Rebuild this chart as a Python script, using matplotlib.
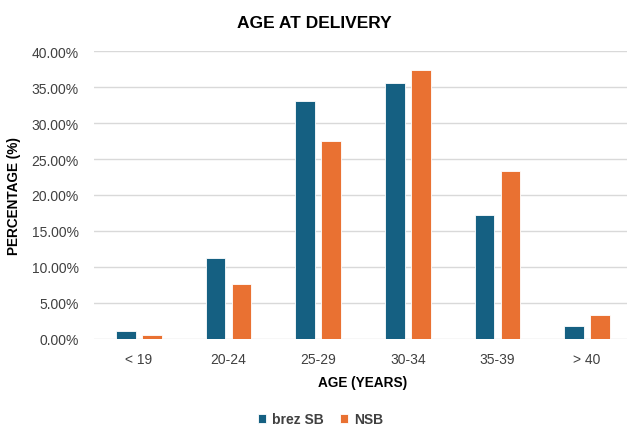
import matplotlib.pyplot as plt
import numpy as np
from matplotlib.ticker import PercentFormatter

#Data
age_groups = ["< 19", "20-24", "25-29", "30-34", "35-39", "> 40"]
brez_sb = [1.07, 11.21, 33.04, 35.59, 17.24, 1.81]
nsb = [0.51, 7.60, 27.57, 37.35, 23.35, 3.34]
series_names = ["brez SB", "NSB"]

#Style
blue = "#156082"
orange = "#E97132"
grid_color = "#D9D9D9"
text_color = "#404040"
bar_width = 0.22
gap = 0.067

plt.rcParams["font.family"] = ["Liberation Sans", "DejaVu Sans"]

fig = plt.figure(figsize=(6.27, 4.27), dpi=100)
W, H = 627, 427
# axes placed in pixel terms: left 94, right 632, top 52.3, bottom 339.5
ax = fig.add_axes([94 / W, (H - 339.5) / H, (632 - 94) / W, (339.5 - 52.3) / H])

x = np.arange(len(age_groups))
offset = (bar_width + gap) / 2
ax.bar(x - offset, np.array(brez_sb) / 100, width=bar_width, color=blue,
       edgecolor="white", linewidth=0.6, label=series_names[0], zorder=3)
ax.bar(x + offset, np.array(nsb) / 100, width=bar_width, color=orange,
       edgecolor="white", linewidth=0.6, label=series_names[1], zorder=3)

ax.set_xlim(-0.5, len(age_groups) - 0.5)
ax.set_ylim(0, 0.40)
ax.set_yticks(np.arange(0, 0.401, 0.05))
ax.yaxis.set_major_formatter(PercentFormatter(1.0, decimals=2))
ax.set_xticks(x)
ax.set_xticklabels(age_groups)

ax.grid(axis="y", color=grid_color, linewidth=1, zorder=0)
for side in ["top", "right", "left", "bottom"]:
    ax.spines[side].set_visible(False)
ax.tick_params(axis="both", length=0, labelsize=10, colors=text_color)
ax.tick_params(axis="y", pad=11)
ax.tick_params(axis="x", pad=10)

fig.text(314.5 / W, 1 - 23 / H, "AGE AT DELIVERY", ha="center", va="center",
         fontsize=12.5, fontweight="bold", color="black")
fig.text(363 / W, 1 - 383 / H, "AGE (YEARS)", ha="center", va="center",
         fontsize=9.8, fontweight="bold", color="black")
fig.text(14 / W, 1 - 196 / H, "PERCENTAGE (%)", ha="center", va="center",
         rotation=90, fontsize=9.8, fontweight="bold", color="black")

leg = fig.legend(loc="center", bbox_to_anchor=(320.5 / W, 1 - 420 / H), ncol=2,
                 frameon=False, handlelength=0.6, handleheight=0.6,
                 handletextpad=0.4, columnspacing=1.2,
                 prop={"weight": "bold", "size": 10})
for t in leg.get_texts():
    t.set_color(text_color)

plt.savefig("out.png", dpi=100)
